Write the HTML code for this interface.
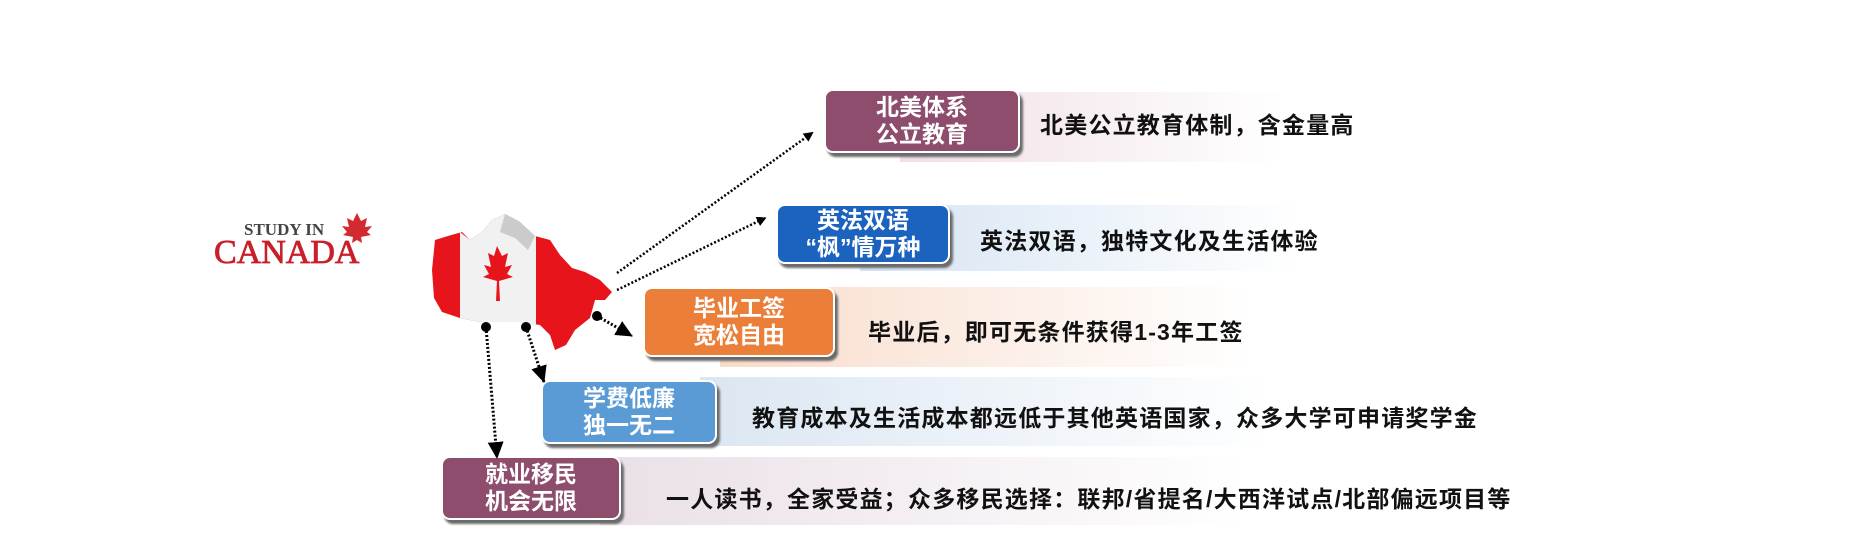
<!DOCTYPE html>
<html><head><meta charset="utf-8">
<style>
body{margin:0;width:1852px;height:544px;background:#fff;position:relative;overflow:hidden;font-family:"Liberation Sans","Noto Sans CJK SC",sans-serif}
.band{position:absolute;}
.box{position:absolute;border-radius:9px;border:2px solid #fff;box-shadow:3px 4px 2px #6a6a6a;color:#fff;font-weight:bold;font-size:23px;line-height:27px;text-align:center;display:flex;align-items:center;justify-content:center;box-sizing:border-box}
.t{position:absolute;font-weight:bold;font-size:23px;letter-spacing:1.2px;color:#111;white-space:nowrap}
</style></head><body>
<div class="band" style="left:900px;top:92px;width:480px;height:70px;background:linear-gradient(90deg,#f0dfe6,#fff 80%)"></div>
<div class="band" style="left:860px;top:205px;width:630px;height:66px;background:linear-gradient(90deg,#d6e4f3,#fff 70%)"></div>
<div class="band" style="left:720px;top:287px;width:760px;height:80px;background:linear-gradient(90deg,#f8dccb,#fff 70%)"></div>
<div class="band" style="left:700px;top:377px;width:820px;height:69px;background:linear-gradient(90deg,#dbe6f2,#fff 70%)"></div>
<div class="band" style="left:600px;top:457px;width:920px;height:68px;background:linear-gradient(90deg,#eadfe7,#fff 70%)"></div>

<div class="box" style="left:824px;top:89px;width:196px;height:64px;background:#8e4d6d">北美体系<br>公立教育</div>
<div class="box" style="left:776px;top:204px;width:174px;height:60px;background:#1c62bf">英法双语<br>“枫”情万种</div>
<div class="box" style="left:643px;top:287px;width:192px;height:70px;background:#eb7f3a">毕业工签<br>宽松自由</div>
<div class="box" style="left:541px;top:380px;width:176px;height:64px;background:#5b9bd5">学费低廉<br>独一无二</div>
<div class="box" style="left:441px;top:456px;width:180px;height:64px;background:#8e4d6d">就业移民<br>机会无限</div>

<div class="t" style="left:1040px;top:106px">北美公立教育体制，含金量高</div>
<div class="t" style="left:980px;top:222px">英法双语，独特文化及生活体验</div>
<div class="t" style="left:868px;top:313px">毕业后，即可无条件获得1-3年工签</div>
<div class="t" style="left:752px;top:399px">教育成本及生活成本都远低于其他英语国家，众多大学可申请奖学金</div>
<div class="t" style="left:666px;top:480px">一人读书，全家受益；众多移民选择：联邦/省提名/大西洋试点/北部偏远项目等</div>

<div style="position:absolute;left:244px;top:220px;font-family:'Liberation Serif',serif;font-weight:bold;font-size:17px;color:#444">STUDY IN</div>
<div style="position:absolute;left:214px;top:234px;font-family:'Liberation Serif',serif;font-size:34px;color:#c8202a;-webkit-text-stroke:0.8px #c8202a">CANADA</div>

<svg width="1852" height="544" style="position:absolute;left:0;top:0">
<defs>
<marker id="a" markerWidth="10" markerHeight="10" refX="8" refY="5" orient="auto" markerUnits="userSpaceOnUse"><path d="M0,0 L10,5 L0,10Z" fill="#000"/></marker>
<marker id="b" markerWidth="18" markerHeight="16" refX="16" refY="8" orient="auto" markerUnits="userSpaceOnUse"><path d="M0,0 L17,8 L0,16Z" fill="#000"/></marker>
</defs>
<path d="M357,213 l4,8 6,-3 -2,9 7,-1 -5,6 4,3 -10,2 1,6 -5,-3 -5,3 1,-6 -10,-2 4,-3 -5,-6 7,1 -2,-9 6,3z" fill="#d22a30"/>
<path d="M435,240 L448,236 L462,232 L470,240 L482,232 L492,220 L505,214 L520,222 L535,236 L550,240 L560,255 L572,268 L585,272 L600,280 L612,292 L605,300 L595,300 L590,318 L575,330 L566,345 L555,350 L550,335 L540,325 L520,322 L500,322 L480,322 L460,318 L442,312 L434,298 L432,270 Z" fill="#e8141c"/>
<path d="M460,232 L470,240 L482,232 L492,220 L505,214 L520,222 L536,236 L536,326 L520,322 L500,322 L480,322 L460,318 Z" fill="#f1f1f1"/>
<path d="M497,246 l5,10 6,-3 -3,14 7,-2 -5,9 6,3 -14,4 1,20 -4,0 1,-20 -14,-4 6,-3 -5,-9 7,2 -3,-14 6,3z" fill="#e8141c"/>
<path d="M505,214 L520,222 L535,236 L528,250 L515,238 L500,232Z" fill="#bbb" opacity=".7"/>
<g stroke="#000" stroke-width="3" stroke-dasharray="2,2" fill="none">
<line x1="617" y1="273" x2="812" y2="133" marker-end="url(#a)" stroke-width="2.5"/>
<line x1="617" y1="290" x2="765" y2="218" marker-end="url(#a)" stroke-width="2.5"/>
<line x1="597" y1="316" x2="632" y2="336" marker-end="url(#b)"/>
<line x1="526" y1="327" x2="544" y2="382" marker-end="url(#b)"/>
<line x1="486" y1="327" x2="497" y2="458" marker-end="url(#b)"/>
</g>
<circle cx="597" cy="316" r="5" fill="#000"/>
<circle cx="526" cy="327" r="5" fill="#000"/>
<circle cx="486" cy="327" r="5" fill="#000"/>
</svg>
</body></html>
